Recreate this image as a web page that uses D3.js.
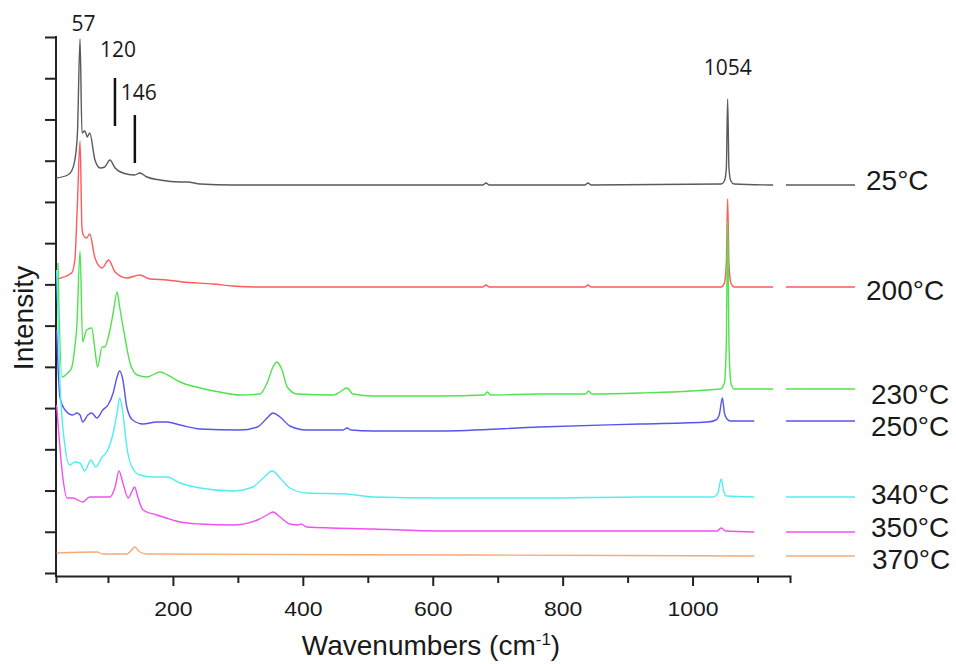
<!DOCTYPE html>
<html><head><meta charset="utf-8">
<script src="https://cdn.jsdelivr.net/npm/d3@7"></script>
<style>
body{margin:0;background:#fff}
svg{display:block}
text{font-family:"Liberation Sans",Arial,sans-serif;fill:#1a1a1a}
</style>
</head><body>
<svg id="chart" width="956" height="664"></svg>
<script>
// ---- data (wavenumber cm-1, intensity a.u.) ----
const temperatures = ["25°C","200°C","230°C","250°C","340°C","350°C","370°C"];

const s25 = [[20,395],[38,398],[44,402],[49,413],[53,440],[57,534],[60,440],[64,442],[66,440],[68,436],[72,440],[80,413],[88,405],[95,406],[103,413],[111,405],[123,400],[141,398],[149,400],[160,396],[180,393],[211,391],[222,391],[242,389],[292,388],[334,388],[600,388],[677,388],[682,390],[687,388],[834,388],[839,390],[844,388],[1044,389],[1049,392],[1052,405],[1054,474],[1056,405],[1059,392],[1064,389],[1124,388]];

const s200 = [[21,294],[44,300],[49,313],[53,370],[57,432],[60,345],[62,338],[67,335],[72,339],[80,315],[91,305],[101,313],[111,301],[129,295],[149,298],[165,294],[191,293],[215,291],[262,289],[292,287],[334,286],[677,286],[682,288],[687,286],[834,286],[839,288],[844,286],[1044,286],[1049,290],[1052,310],[1054,374],[1056,310],[1059,290],[1064,286],[1124,286]];

const s230 = [[23,310],[29,196],[38,200],[44,205],[49,226],[52,246],[57,322],[61,231],[67,243],[75,245],[80,223],[84,206],[91,226],[95,226],[103,243],[108,260],[114,281],[118,266],[126,236],[134,210],[145,198],[160,196],[180,201],[192,198],[211,191],[242,185],[272,181],[303,178],[334,179],[345,190],[354,206],[360,211],[368,203],[376,186],[391,179],[447,178],[457,181],[468,185],[477,179],[508,177],[611,177],[679,178],[684,181],[689,178],[765,179],[835,179],[840,182],[845,179],[919,180],[1043,184],[1049,190],[1052,230],[1054,352],[1056,230],[1059,190],[1064,184],[1124,184]];

const s250 = [[21,243],[26,176],[34,163],[46,158],[52,160],[57,158],[61,151],[69,158],[75,160],[83,155],[92,163],[100,168],[108,180],[114,196],[118,202],[123,193],[129,166],[138,153],[154,149],[175,151],[191,151],[211,148],[242,144],[303,143],[330,146],[345,155],[354,160],[365,156],[380,147],[406,143],[462,143],[468,145],[474,143],[508,142],[611,142],[765,146],[919,149],[1023,151],[1036,153],[1041,158],[1046,175],[1049,160],[1053,154],[1058,152],[1095,152]];

const s340 = [[21,303],[26,193],[34,126],[41,108],[49,111],[57,110],[64,102],[74,113],[81,106],[91,116],[98,121],[108,140],[114,160],[118,175],[123,160],[129,126],[137,106],[149,98],[169,96],[191,96],[211,90],[242,85],[292,82],[323,86],[339,95],[353,102],[365,95],[380,85],[406,80],[468,79],[508,76],[611,75],[765,75],[919,76],[1032,76],[1039,80],[1044,94],[1048,82],[1052,77],[1095,76]];

const s350 = [[21,168],[31,93],[37,75],[46,75],[61,71],[72,76],[88,76],[103,76],[111,86],[117,102],[123,90],[131,75],[138,83],[141,86],[146,76],[154,63],[175,58],[185,56],[211,51],[242,49],[292,48],[330,53],[345,58],[354,61],[365,56],[380,49],[393,48],[397,49],[406,46],[508,44],[611,42],[765,42],[1038,42],[1044,45],[1051,42],[1095,41]];

const s370 = [[21,20],[83,21],[92,19],[129,19],[135,22],[141,26],[149,21],[160,19],[672,18],[1095,17]];

const xTickValues = [100,200,300,400,500,600,700,800,900,1000,1100];
const xTickLabels = [200,400,600,800,1000];
const peakLabels = ["57","120","146","1054"];
const peakPositions = [57,120,146,1054];
const markedPeaks = [120,146];

// ---- layout / style ----
const seriesValues = [s25,s200,s230,s250,s340,s350,s370];
const colors = ["#5a5a5a","#ff5a5a","#4fe34f","#5555ee","#50eef0","#f050f0","#f5aa78"];
const legendX = [866,866,871,871,871,871,872];
const legendNudge = [-5,3,5,5,-3,-5,3];
const peakDx = [3.5,-3,1,0];
const peakBaseline = [31,57,100,75];
const markerDx = [-6,-3];
const markerY = [[78,126],[115,163]];

const svg = d3.select("#chart");
const x = d3.scaleLinear().domain([20,1150]).range([56,790]);
const y = d3.scaleLinear().domain([0,536]).range([573,37]);
const axisY = 576;

// y axis
const yAxis = d3.axisLeft(y)
  .tickValues(d3.range(14).map(i => i*536/13))
  .tickSize(11).tickSizeOuter(0).tickFormat("");
const gy = svg.append("g").attr("transform","translate(56,0)").call(yAxis);
gy.select(".domain").remove();
gy.selectAll(".tick line").attr("stroke","#222").attr("stroke-width",2);
svg.append("line").attr("x1",56).attr("x2",56).attr("y1",36).attr("y2",axisY+1)
  .attr("stroke","#222").attr("stroke-width",2);

// x axis
const xAxis = d3.axisBottom(x).tickValues(xTickValues).tickSizeOuter(0)
  .tickSize(7).tickFormat(d => xTickLabels.includes(d) ? d : "");
const gx = svg.append("g").attr("transform",`translate(0,${axisY})`).call(xAxis);
gx.select(".domain").attr("stroke","#222").attr("stroke-width",2);
gx.selectAll(".tick line").attr("stroke","#222").attr("stroke-width",2)
  .attr("y2", d => xTickLabels.includes(d) ? 10 : 7);
gx.selectAll(".tick text")
  .attr("y",26).attr("dy","0.71em")
  .attr("transform","scale(1.15,1)")
  .style("font-family","'Liberation Sans',Arial,sans-serif")
  .style("font-size","20px").attr("fill","#1a1a1a");

// axis titles
const xt = svg.append("text").attr("x",431).attr("y",655).attr("text-anchor","middle")
  .style("font-size","28px");
xt.append("tspan").text("Wavenumbers (cm");
xt.append("tspan").text("-1").attr("dy",-10).style("font-size","17px");
xt.append("tspan").text(")").attr("dy",10);

svg.append("text").attr("transform","translate(33,318) rotate(-90)")
  .attr("text-anchor","middle").style("font-size","28px").text("Intensity");

// spectra
const line = d3.line().x(d => x(d[0])).y(d => y(d[1])).curve(d3.curveMonotoneX);
svg.append("g").selectAll("path").data(seriesValues).join("path")
  .attr("d", line).attr("fill","none")
  .attr("stroke",(d,i) => colors[i]).attr("stroke-width",1.4)
  .attr("stroke-linejoin","round");

// legend
const lg = svg.append("g");
seriesValues.forEach((s,i) => {
  const ly = y(s[s.length-1][1]);
  lg.append("line").attr("x1",786).attr("x2",855).attr("y1",ly).attr("y2",ly)
    .attr("stroke",colors[i]).attr("stroke-width",1.4);
  lg.append("text").attr("x",legendX[i]).attr("y",ly+legendNudge[i]+10)
    .style("font-size","28px").text(temperatures[i]);
});

// peak annotations
peakLabels.forEach((t,i) => {
  svg.append("text").attr("x",x(peakPositions[i])+peakDx[i]).attr("y",peakBaseline[i])
    .attr("text-anchor","middle")
    .style("font-family","'Open Sans',sans-serif").style("font-size","21px")
    .attr("fill","#222").text(t);
});
markedPeaks.forEach((p,i) => {
  svg.append("line").attr("x1",x(p)+markerDx[i]).attr("x2",x(p)+markerDx[i])
    .attr("y1",markerY[i][0]).attr("y2",markerY[i][1])
    .attr("stroke","#111").attr("stroke-width",2.5);
});
</script>
</body></html>
